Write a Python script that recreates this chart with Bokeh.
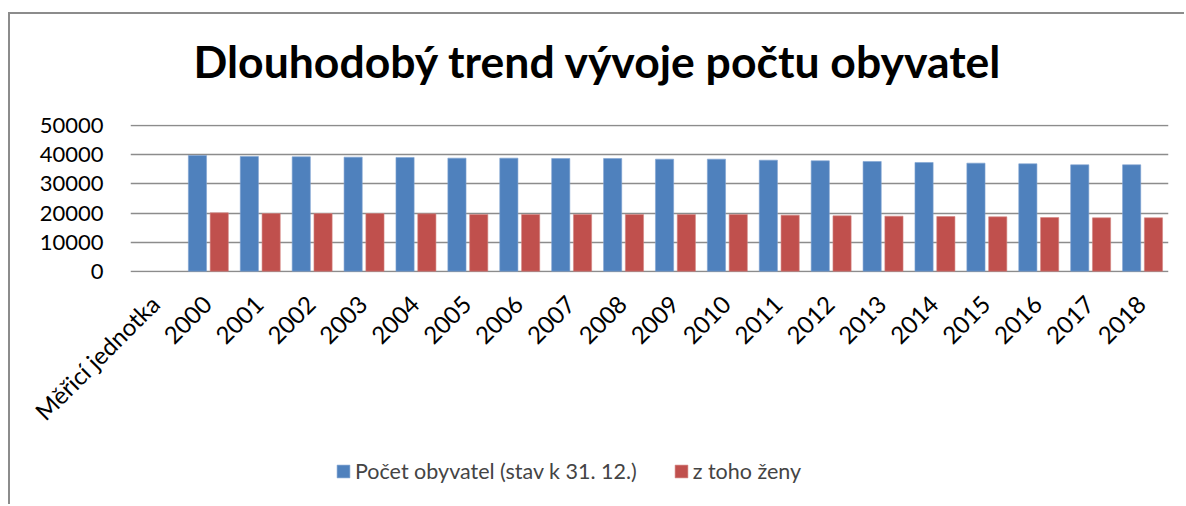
from math import pi
from bokeh.plotting import figure
from bokeh.layouts import column
from bokeh.models import (Range1d, Legend, LegendItem, FixedTicker, NumeralTickFormatter,
                          ColumnDataSource, Div)
from bokeh.transform import dodge
from bokeh.embed import file_html
from bokeh.resources import INLINE

# ---------------- data ----------------
title_text = "Dlouhodobý trend vývoje počtu obyvatel"
categories = ["Měřicí jednotka", "2000", "2001", "2002", "2003", "2004", "2005", "2006",
              "2007", "2008", "2009", "2010", "2011", "2012", "2013", "2014", "2015",
              "2016", "2017", "2018"]
bar_years = ["2000", "2001", "2002", "2003", "2004", "2005", "2006", "2007", "2008", "2009",
             "2010", "2011", "2012", "2013", "2014", "2015", "2016", "2017", "2018"]
pocet_obyvatel = [39790, 39450, 39340, 39220, 39110, 38880, 38880, 38760, 38760, 38530,
                  38530, 38190, 37960, 37730, 37390, 37160, 36930, 36580, 36580]
z_toho_zeny = [20070, 19840, 19840, 19840, 19730, 19500, 19500, 19500, 19500, 19500,
               19500, 19270, 19040, 18920, 18810, 18690, 18460, 18350, 18350]
series_names = ["Počet obyvatel (stav k 31. 12.)", "z toho ženy"]
y_ticks = [0, 10000, 20000, 30000, 40000, 50000]

FONT = "Lato"
BLUE = "#4F81BD"
RED = "#C0504D"
GRID = "#8c8c8c"
W = 1174

# ---------------- title ----------------
title = Div(text=('<div style="font-family: Lato; font-weight: bold; font-size: 44.5px; '
                  'line-height: 44px; padding-top: 25px; text-align: center; '
                  'color: black; white-space: nowrap; width: %dpx;">%s</div>') % (W, title_text),
            width=W, height=96, margin=0)

# ---------------- main chart ----------------
# category slot centres on a numeric category scale (slot i spans i..i+1)
slot = [categories.index(y) + 0.5 for y in bar_years]
src = ColumnDataSource(dict(x=slot, pocet=pocet_obyvatel, zeny=z_toho_zeny))

p = figure(title=None, x_range=Range1d(0, len(categories)), y_range=Range1d(-447, 50447),
           frame_width=1038, frame_height=148, output_backend="svg", toolbar_location=None,
           min_border_left=120, min_border_right=16, min_border_top=14,
           min_border_bottom=174)
p.outline_line_color = None
p.background_fill_color = "white"
p.border_fill_color = "white"

r1 = p.vbar(x=dodge("x", -0.21), top="pocet", bottom=0, width=0.35,
            source=src, fill_color=BLUE, line_color="#7fa3d2", line_width=0.6)
r2 = p.vbar(x=dodge("x", 0.21), top="zeny", bottom=0, width=0.35,
            source=src, fill_color=RED, line_color="#d48482", line_width=0.6)

p.xgrid.grid_line_color = None
p.ygrid.grid_line_color = GRID
p.ygrid.grid_line_width = 1.5
p.ygrid.ticker = FixedTicker(ticks=y_ticks)

yax = p.yaxis[0]
yax.ticker = FixedTicker(ticks=y_ticks)
yax.formatter = NumeralTickFormatter(format="0")
yax.axis_line_color = None
yax.major_tick_line_color = None
yax.minor_tick_line_color = None
yax.major_tick_out = 0
yax.major_label_standoff = 27
yax.major_label_text_font = FONT
yax.major_label_text_font_size = "22px"
yax.major_label_text_color = "black"

# category labels, rotated 45 degrees like the original
label_pos = [i + 0.47 for i in range(len(categories))]
xax = p.xaxis[0]
xax.ticker = FixedTicker(ticks=label_pos)
xax.major_label_overrides = {pos: c for pos, c in zip(label_pos, categories)}
xax.major_label_orientation = pi / 4
xax.axis_line_color = None
xax.major_tick_line_color = None
xax.minor_tick_line_color = None
xax.major_tick_out = 0
xax.major_tick_in = 0
xax.major_label_standoff = 27
xax.major_label_text_font = FONT
xax.major_label_text_font_size = "24px"
xax.major_label_text_color = "black"

# ---------------- legend strip ----------------
q = figure(width=W, height=58, x_range=Range1d(0, 1), y_range=Range1d(0, 1),
           x_axis_location=None, y_axis_location=None, min_border=0, title=None,
           output_backend="svg", toolbar_location=None)
q.outline_line_color = None
q.grid.visible = False
# legend swatches only (kept outside the visible range of this strip)
key_src = ColumnDataSource(dict(x=[-5.0], top=[0.0]))
d1 = q.vbar(x="x", top="top", bottom=0, width=0.35, source=key_src,
            fill_color=BLUE, line_color="#7fa3d2", line_width=0.6)
d2 = q.vbar(x="x", top="top", bottom=0, width=0.35, source=key_src,
            fill_color=RED, line_color="#d48482", line_width=0.6)
legend = Legend(items=[LegendItem(label=series_names[0], renderers=[d1]),
                       LegendItem(label=series_names[1], renderers=[d2])],
                orientation="horizontal", location=(205, 20), padding=0, margin=0,
                spacing=36, label_standoff=4, glyph_width=16, glyph_height=16,
                label_height=16, label_text_font=FONT, label_text_font_size="21.5px",
                border_line_color=None, background_fill_alpha=0)
q.add_layout(legend, "center")

layout = column(title, p, q, spacing=0)
layout.styles = {"border-left": "2px solid #8c8c8c", "border-top": "2px solid #8c8c8c",
                 "margin-top": "12px", "margin-left": "8px"}

open("out.html", "w").write(file_html(layout, INLINE))
